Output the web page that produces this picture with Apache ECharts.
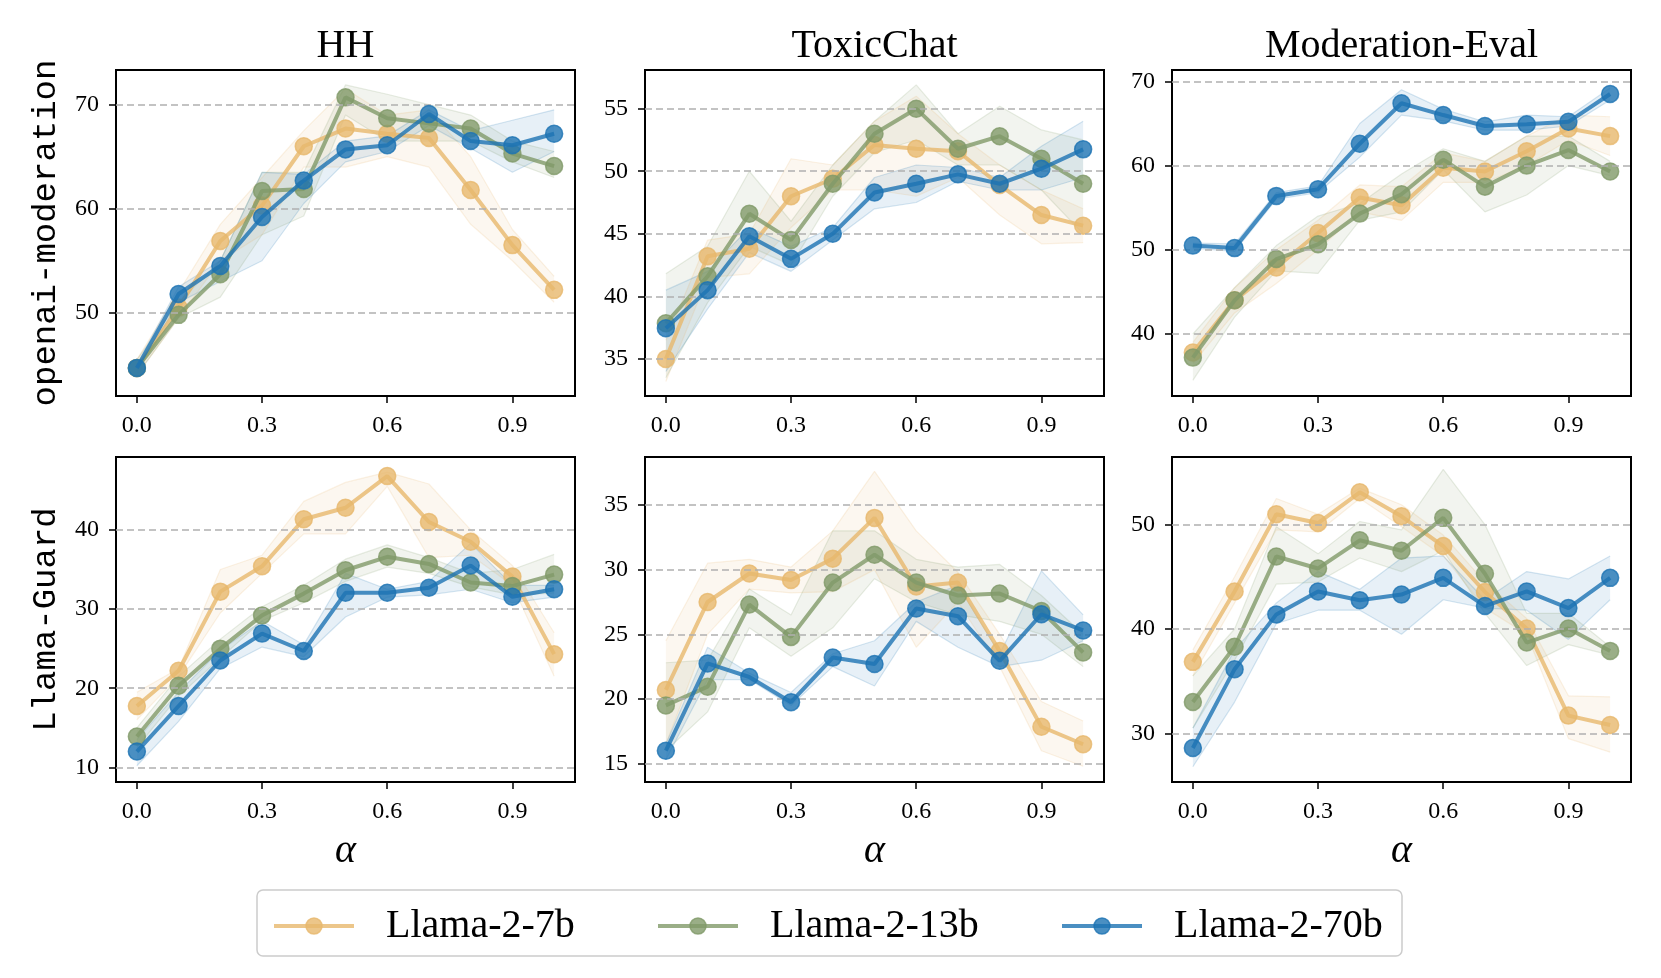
<!DOCTYPE html>
<html>
<head>
<meta charset="utf-8">
<script src="https://cdn.jsdelivr.net/npm/echarts@6/dist/echarts.min.js"></script>
<style>
html,body{margin:0;padding:0;background:#fff;}
#chart{width:1661px;height:978px;}
</style>
</head>
<body>
<div id="chart"></div>
<script>
// ---------------- data ----------------
const alphas = ['0.0', '0.1', '0.2', '0.3', '0.4', '0.5', '0.6', '0.7', '0.8', '0.9', '1.0'];
const models = ['Llama-2-7b', 'Llama-2-13b', 'Llama-2-70b'];
const datasets = ['HH', 'ToxicChat', 'Moderation-Eval'];
const judges = ['openai-moderation', 'Llama-Guard'];
const xTickLabels = ['0.0', '0.3', '0.6', '0.9'];

// y tick labels per panel
const yTicks_HH_openai = [50, 60, 70];
const yTicks_TC_openai = [35, 40, 45, 50, 55];
const yTicks_ME_openai = [40, 50, 60, 70];
const yTicks_HH_guard = [10, 20, 30, 40];
const yTicks_TC_guard = [15, 20, 25, 30, 35];
const yTicks_ME_guard = [30, 40, 50];

// ---- openai-moderation / HH ----
const HH_openai_7b    = [44.7, 50.5, 56.9, 60.3, 66.0, 67.7, 67.2, 66.8, 61.8, 56.5, 52.2];
const HH_openai_7b_lo = [44.0, 49.5, 55.0, 57.5, 64.0, 64.0, 65.0, 64.0, 58.5, 55.0, 51.0];
const HH_openai_7b_hi = [45.5, 52.0, 58.5, 63.0, 67.5, 71.5, 69.0, 69.5, 65.0, 58.0, 53.5];
const HH_openai_13b    = [44.7, 49.8, 53.7, 61.7, 61.9, 70.7, 68.7, 68.2, 67.7, 65.3, 64.1];
const HH_openai_13b_lo = [44.0, 49.5, 51.5, 57.5, 59.3, 69.0, 66.5, 66.5, 66.5, 64.5, 63.0];
const HH_openai_13b_hi = [45.5, 51.0, 55.0, 63.5, 63.5, 71.9, 71.0, 70.0, 69.0, 66.5, 65.5];
const HH_openai_70b    = [44.7, 51.8, 54.5, 59.2, 62.7, 65.7, 66.1, 69.1, 66.5, 66.1, 67.2];
const HH_openai_70b_lo = [44.3, 51.0, 53.0, 55.0, 60.5, 64.5, 65.5, 68.0, 65.8, 63.5, 65.5];
const HH_openai_70b_hi = [45.0, 52.5, 55.0, 63.5, 63.3, 66.5, 67.0, 69.5, 67.5, 68.5, 69.5];

// ---- openai-moderation / ToxicChat ----
const TC_openai_7b    = [35.0, 43.2, 43.8, 48.0, 49.4, 52.1, 51.8, 51.6, 48.9, 46.5, 45.65];
const TC_openai_7b_lo = [33.2, 41.5, 41.8, 45.5, 48.5, 48.5, 48.0, 49.5, 46.5, 44.2, 44.3];
const TC_openai_7b_hi = [36.5, 44.5, 45.0, 51.0, 50.5, 54.0, 56.0, 53.0, 50.5, 48.5, 47.0];
const TC_openai_13b    = [37.85, 41.6, 46.6, 44.5, 49.0, 53.0, 55.0, 51.8, 52.8, 51.0, 49.0];
const TC_openai_13b_lo = [33.5, 39.5, 44.0, 42.5, 48.0, 51.5, 52.5, 50.5, 50.5, 48.5, 45.0];
const TC_openai_13b_hi = [41.8, 44.0, 50.0, 46.0, 50.5, 54.0, 56.9, 53.0, 55.2, 53.3, 52.5];
const TC_openai_70b    = [37.45, 40.5, 44.8, 43.0, 45.0, 48.3, 49.0, 49.75, 49.0, 50.2, 51.75];
const TC_openai_70b_lo = [34.0, 39.0, 43.5, 42.0, 44.5, 47.0, 47.5, 49.2, 48.5, 48.5, 49.5];
const TC_openai_70b_hi = [40.5, 42.0, 45.5, 44.0, 45.5, 49.5, 50.5, 50.3, 49.5, 52.0, 54.0];

// ---- openai-moderation / Moderation-Eval ----
const ME_openai_7b    = [37.8, 44.0, 47.9, 52.0, 56.2, 55.3, 59.75, 59.3, 61.7, 64.4, 63.5];
const ME_openai_7b_lo = [36.5, 42.5, 46.0, 50.0, 54.5, 53.5, 58.0, 58.0, 60.0, 63.0, 61.2];
const ME_openai_7b_hi = [39.0, 45.5, 50.0, 53.5, 57.7, 57.5, 61.5, 60.5, 63.5, 66.0, 65.8];
const ME_openai_13b    = [37.2, 44.0, 48.9, 50.65, 54.3, 56.6, 60.7, 57.5, 60.0, 61.85, 59.3];
const ME_openai_13b_lo = [34.5, 42.0, 47.5, 47.2, 53.5, 54.5, 59.5, 54.5, 56.5, 60.0, 58.8];
const ME_openai_13b_hi = [40.0, 45.5, 50.5, 54.0, 55.5, 59.0, 62.0, 60.5, 63.5, 63.5, 60.5];
const ME_openai_70b    = [50.5, 50.2, 56.4, 57.2, 62.6, 67.4, 66.0, 64.7, 64.9, 65.2, 68.5];
const ME_openai_70b_lo = [50.2, 49.8, 56.0, 56.8, 61.0, 66.0, 65.3, 64.2, 64.2, 64.7, 67.8];
const ME_openai_70b_hi = [50.8, 50.7, 56.8, 57.6, 65.0, 69.0, 66.7, 65.2, 66.0, 65.8, 69.2];

// ---- Llama-Guard / HH ----
const HH_guard_7b    = [17.75, 22.2, 32.2, 35.4, 41.35, 42.8, 46.8, 41.0, 38.5, 34.1, 24.3];
const HH_guard_7b_lo = [16.0, 21.5, 29.5, 34.5, 39.5, 39.5, 45.5, 36.5, 36.8, 33.0, 21.5];
const HH_guard_7b_hi = [19.5, 22.5, 35.0, 36.8, 43.6, 46.0, 47.3, 45.8, 40.0, 35.5, 27.0];
const HH_guard_13b    = [13.9, 20.3, 25.0, 29.2, 31.95, 34.9, 36.6, 35.7, 33.35, 32.9, 34.35];
const HH_guard_13b_lo = [12.5, 19.0, 23.8, 28.5, 30.8, 33.5, 35.3, 34.5, 32.8, 31.8, 32.0];
const HH_guard_13b_hi = [15.0, 21.5, 26.2, 30.3, 33.0, 36.3, 38.1, 36.5, 34.5, 35.0, 36.9];
const HH_guard_70b    = [12.0, 17.75, 23.5, 26.9, 24.7, 32.05, 32.05, 32.7, 35.5, 31.55, 32.5];
const HH_guard_70b_lo = [10.2, 15.8, 22.5, 25.2, 24.0, 29.0, 31.5, 31.8, 32.5, 30.8, 31.5];
const HH_guard_70b_hi = [13.5, 19.5, 24.8, 28.5, 25.5, 34.5, 32.5, 33.5, 38.3, 33.0, 33.0];

// ---- Llama-Guard / ToxicChat ----
const TC_guard_7b    = [20.7, 27.5, 29.7, 29.2, 30.85, 34.0, 28.7, 29.0, 23.7, 17.85, 16.5];
const TC_guard_7b_lo = [16.5, 25.0, 28.5, 28.2, 28.3, 30.0, 24.0, 27.5, 22.5, 16.0, 14.8];
const TC_guard_7b_hi = [24.5, 30.5, 30.8, 30.2, 33.0, 37.6, 33.0, 29.8, 25.0, 19.8, 18.3];
const TC_guard_13b    = [19.5, 20.95, 27.3, 24.8, 29.0, 31.15, 29.0, 28.0, 28.15, 26.8, 23.6];
const TC_guard_13b_lo = [16.0, 19.0, 25.5, 23.3, 25.5, 29.3, 27.5, 26.5, 26.0, 25.0, 22.5];
const TC_guard_13b_hi = [22.8, 23.0, 28.5, 26.5, 33.0, 33.0, 30.8, 30.2, 30.4, 28.0, 25.0];
const TC_guard_70b    = [16.0, 22.75, 21.7, 19.75, 23.2, 22.7, 27.0, 26.4, 22.95, 26.55, 25.3];
const TC_guard_70b_lo = [15.3, 21.5, 21.5, 19.5, 22.5, 21.0, 26.0, 24.0, 22.5, 23.0, 24.5];
const TC_guard_70b_hi = [16.5, 24.0, 22.0, 20.5, 23.5, 24.5, 27.5, 28.8, 23.5, 29.9, 26.5];

// ---- Llama-Guard / Moderation-Eval ----
const ME_guard_7b    = [36.85, 43.6, 51.0, 50.15, 53.1, 50.8, 47.95, 43.55, 40.05, 31.7, 30.8];
const ME_guard_7b_lo = [35.5, 42.5, 49.5, 49.3, 52.5, 49.8, 47.0, 42.0, 39.5, 29.5, 28.2];
const ME_guard_7b_hi = [38.0, 45.0, 52.5, 51.0, 53.5, 51.9, 49.0, 44.5, 41.0, 33.6, 33.5];
const ME_guard_13b    = [33.0, 38.3, 46.95, 45.8, 48.5, 47.5, 50.65, 45.3, 38.7, 40.05, 37.9];
const ME_guard_13b_lo = [30.5, 37.0, 44.3, 44.5, 46.8, 45.5, 47.5, 41.5, 36.5, 38.5, 37.5];
const ME_guard_13b_hi = [35.5, 40.0, 49.8, 47.2, 50.3, 49.5, 55.3, 50.0, 41.5, 41.5, 38.3];
const ME_guard_70b    = [28.6, 36.15, 41.4, 43.6, 42.75, 43.3, 44.9, 42.2, 43.6, 42.0, 44.9];
const ME_guard_70b_lo = [26.8, 33.0, 40.5, 41.8, 41.8, 39.5, 42.8, 42.0, 41.8, 39.0, 42.8];
const ME_guard_70b_hi = [30.5, 38.0, 42.5, 45.5, 43.8, 46.8, 47.0, 42.8, 45.5, 44.8, 47.0];

// ---------------- panels ----------------
const panels = [
  {row:0, col:0, yMin:42.0,  yMax:73.33, ticks:yTicks_HH_openai,
   mean:[HH_openai_7b, HH_openai_13b, HH_openai_70b], lo:[HH_openai_7b_lo, HH_openai_13b_lo, HH_openai_70b_lo], hi:[HH_openai_7b_hi, HH_openai_13b_hi, HH_openai_70b_hi]},
  {row:0, col:1, yMin:32.04, yMax:58.09, ticks:yTicks_TC_openai,
   mean:[TC_openai_7b, TC_openai_13b, TC_openai_70b], lo:[TC_openai_7b_lo, TC_openai_13b_lo, TC_openai_70b_lo], hi:[TC_openai_7b_hi, TC_openai_13b_hi, TC_openai_70b_hi]},
  {row:0, col:2, yMin:32.64, yMax:71.35, ticks:yTicks_ME_openai,
   mean:[ME_openai_7b, ME_openai_13b, ME_openai_70b], lo:[ME_openai_7b_lo, ME_openai_13b_lo, ME_openai_70b_lo], hi:[ME_openai_7b_hi, ME_openai_13b_hi, ME_openai_70b_hi]},
  {row:1, col:0, yMin:8.15,  yMax:49.21, ticks:yTicks_HH_guard,
   mean:[HH_guard_7b, HH_guard_13b, HH_guard_70b], lo:[HH_guard_7b_lo, HH_guard_13b_lo, HH_guard_70b_lo], hi:[HH_guard_7b_hi, HH_guard_13b_hi, HH_guard_70b_hi]},
  {row:1, col:1, yMin:13.58, yMax:38.71, ticks:yTicks_TC_guard,
   mean:[TC_guard_7b, TC_guard_13b, TC_guard_70b], lo:[TC_guard_7b_lo, TC_guard_13b_lo, TC_guard_70b_lo], hi:[TC_guard_7b_hi, TC_guard_13b_hi, TC_guard_70b_hi]},
  {row:1, col:2, yMin:25.34, yMax:56.48, ticks:yTicks_ME_guard,
   mean:[ME_guard_7b, ME_guard_13b, ME_guard_70b], lo:[ME_guard_7b_lo, ME_guard_13b_lo, ME_guard_70b_lo], hi:[ME_guard_7b_hi, ME_guard_13b_hi, ME_guard_70b_hi]}
];

// ---------------- style ----------------
const baseRGB = [[231,184,109],[129,154,105],[29,115,179]];
const rgba = (c, a) => `rgba(${c[0]},${c[1]},${c[2]},${a})`;
const SERIF = 'Liberation Serif';
const gridLeft = [116, 645, 1172];
const gridTop = [70, 457];
const gridW = 459, gridH = [326, 325];
const showX = (idx, val) => xTickLabels.indexOf(String(val)) >= 0;

const grids = [], xAxes = [], yAxes = [], series = [], graphics = [];

panels.forEach((p, i) => {
  grids.push({left: gridLeft[p.col], top: gridTop[p.row], width: gridW, height: gridH[p.row],
    show: true, borderColor: '#000', borderWidth: 2, backgroundColor: '#fff', containLabel: false});
  xAxes.push({type: 'category', gridIndex: i, data: alphas, boundaryGap: true,
    axisLine: {show: false}, splitLine: {show: false},
    axisTick: {show: true, inside: false, alignWithLabel: true, interval: showX, length: 7, lineStyle: {color: '#000', width: 1.5}},
    axisLabel: {show: true, interval: showX, margin: 18, color: '#000', fontFamily: SERIF, fontSize: 24}});
  yAxes.push({type: 'value', gridIndex: i, min: p.yMin, max: p.yMax,
    axisLine: {show: false}, splitLine: {show: false},
    axisTick: {show: true, inside: false, length: 7, lineStyle: {color: '#000', width: 1.5}, customValues: p.ticks},
    axisLabel: {show: true, customValues: p.ticks, margin: 17, color: '#000', fontFamily: SERIF, fontSize: 24,
      formatter: v => String(Math.round(v))}});

  // dashed horizontal grid lines
  series.push({type: 'line', xAxisIndex: i, yAxisIndex: i, data: [], silent: true, z: 2,
    markLine: {silent: true, symbol: 'none', animation: false, label: {show: false},
      lineStyle: {color: '#b0b0b0', type: [7, 4], width: 1.5},
      emphasis: {disabled: true},
      data: p.ticks.map(v => ({yAxis: v}))}});

  // shaded bands (lower bound + stacked width)
  models.forEach((m, k) => {
    const c = baseRGB[k];
    const st = 'band_' + i + '_' + k;
    series.push({type: 'line', xAxisIndex: i, yAxisIndex: i, stack: st, silent: true, z: 1,
      symbol: 'none', lineStyle: {color: rgba(c, 0.18), width: 1.2},
      emphasis: {disabled: true},
      data: p.lo[k]});
    series.push({type: 'line', xAxisIndex: i, yAxisIndex: i, stack: st, silent: true, z: 1,
      symbol: 'none', lineStyle: {color: rgba(c, 0.18), width: 1.2},
      areaStyle: {color: rgba(c, 0.15)},
      emphasis: {disabled: true},
      data: p.hi[k].map((h, j) => h - p.lo[k][j])});
  });
  // mean lines
  models.forEach((m, k) => {
    const c = baseRGB[k];
    series.push({type: 'line', name: m, xAxisIndex: i, yAxisIndex: i, z: 3 + k,
      symbol: 'circle', symbolSize: 17,
      lineStyle: {color: rgba(c, 0.8), width: 4},
      itemStyle: {color: rgba(c, 0.8), borderColor: rgba(c, 0.8), borderWidth: 1.5},
      emphasis: {disabled: true},
      data: p.mean[k]});
  });
});

// titles
datasets.forEach((d, c) => {
  graphics.push({type: 'text', x: gridLeft[c] + gridW / 2, y: 46, silent: true,
    style: {text: d, fontFamily: SERIF, fontSize: 40, fill: '#000', align: 'center', verticalAlign: 'middle',
      textAlign: 'center', textVerticalAlign: 'middle'}});
});
// row labels
judges.forEach((j, r) => {
  graphics.push({type: 'text', x: 46, y: gridTop[r] + gridH[r] / 2, rotation: Math.PI / 2, silent: true,
    style: {text: j, fontFamily: 'Liberation Mono', fontSize: 34, fill: '#000', align: 'center', verticalAlign: 'middle',
      textAlign: 'center', textVerticalAlign: 'middle'}});
});
// x-axis name (alpha)
datasets.forEach((d, c) => {
  graphics.push({type: 'text', x: gridLeft[c] + gridW / 2, y: 851, silent: true,
    style: {text: 'α', fontFamily: SERIF, fontStyle: 'italic', fontSize: 40, fill: '#000', align: 'center', verticalAlign: 'middle',
      textAlign: 'center', textVerticalAlign: 'middle'}});
});
// legend frame
graphics.push({type: 'rect', shape: {x: 257, y: 890, width: 1145, height: 66, r: 6}, z: 0, silent: true,
  style: {fill: '#fff', stroke: '#cccccc', lineWidth: 1.5}});

const legendLeft = [272, 656, 1060];
const legends = models.map((m, k) => ({
  data: [m], left: legendLeft[k], top: 906, padding: 0, itemWidth: 80, itemHeight: 20, selectedMode: false,
  lineStyle: {width: 4, color: rgba(baseRGB[k], 0.8)},
  itemStyle: {color: rgba(baseRGB[k], 0.8), borderColor: rgba(baseRGB[k], 0.8), borderWidth: 1.5},
  textStyle: {fontFamily: SERIF, fontSize: 40, color: '#000', padding: [0, 0, 0, 27]}
}));

const chart = echarts.init(document.getElementById('chart'), null, {renderer: 'canvas'});
chart.setOption({
  animation: false,
  backgroundColor: '#fff',
  grid: grids, xAxis: xAxes, yAxis: yAxes, series: series,
  legend: legends,
  graphic: graphics
});
</script>
</body>
</html>
